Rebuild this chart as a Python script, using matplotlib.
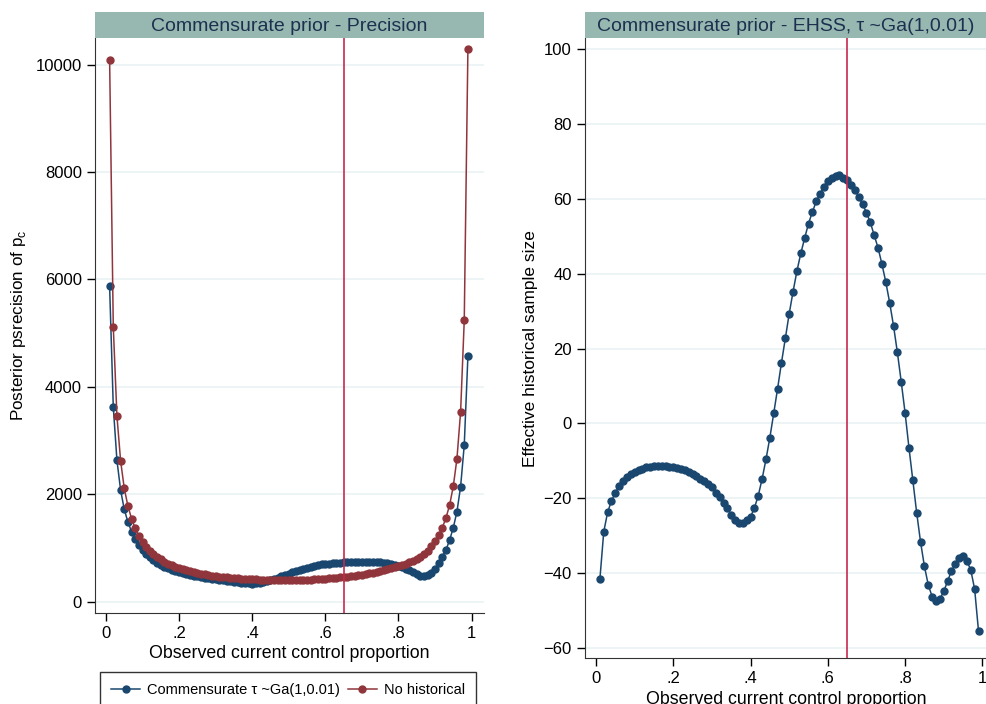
import matplotlib
matplotlib.use('Agg')
import matplotlib.pyplot as plt
from matplotlib.lines import Line2D

plt.rcParams['font.family'] = ['Liberation Sans', 'DejaVu Sans']

# observed current control proportion grid
proportion = [i / 100 for i in range(1, 100)]

# posterior precision, commensurate prior tau ~ Ga(1,0.01)
precision_comm = [
    5870, 3630, 2633, 2080, 1720, 1484, 1304, 1173, 1050, 957,
    885, 824, 772, 727, 688, 654, 624, 597, 573, 552,
    533, 516, 500, 486, 473, 461, 450, 439, 429, 419,
    409, 399, 389, 379, 369, 359, 350, 343, 339, 338,
    341, 348, 360, 378, 400, 425, 450, 475, 500, 524,
    548, 571, 593, 614, 633, 651, 667, 681, 693, 703,
    711, 718, 724, 729, 733, 737, 740, 742, 744, 745,
    745, 744, 741, 737, 731, 723, 713, 700, 684, 665,
    643, 617, 588, 557, 510, 482, 478, 495, 540, 609,
    715, 838, 963, 1149, 1378, 1676, 2142, 2918, 4575,
]

# posterior precision, no historical data
precision_none = [
    10080, 5120, 3458, 2626, 2112, 1782, 1546, 1367, 1223, 1110,
    1023, 950, 887, 833, 786, 746, 710, 679, 651, 626,
    604, 584, 566, 549, 534, 521, 508, 497, 487, 477,
    468, 461, 453, 447, 441, 435, 430, 425, 421, 418,
    414, 412, 409, 407, 405, 404, 403, 402, 401, 401,
    402, 403, 405, 407, 410, 413, 417, 421, 425, 430,
    435, 441, 447, 454, 461, 468, 476, 485, 494, 504,
    515, 527, 540, 554, 569, 585, 603, 622, 643, 657,
    680, 705, 733, 765, 800, 840, 885, 950, 1037, 1130,
    1248, 1378, 1559, 1801, 2149, 2663, 3533, 5240, 10300,
]

# effective historical sample size
ehss = [
    -41.7, -29.0, -23.8, -20.7, -18.6, -16.7, -15.3, -14.3, -13.6, -13.0,
    -12.6, -12.1, -11.8, -11.6, -11.5, -11.4, -11.4, -11.5, -11.6, -11.8,
    -12.0, -12.3, -12.6, -13.0, -13.5, -14.1, -14.8, -15.4, -16.1, -17.1,
    -18.5, -19.8, -21.3, -22.7, -24.4, -25.9, -26.6, -26.6, -25.9, -25.0,
    -22.6, -19.3, -14.8, -9.6, -3.8, 2.7, 9.3, 16.2, 22.7, 29.3,
    35.2, 40.7, 45.4, 49.5, 53.4, 56.5, 59.3, 61.4, 63.3, 64.8,
    65.6, 66.1, 66.4, 65.7, 65.1, 63.8, 62.3, 60.6, 58.6, 56.3,
    53.7, 50.3, 46.9, 42.6, 37.8, 32.3, 26.1, 19.0, 11.1, 2.8,
    -6.5, -15.2, -23.9, -31.7, -38.2, -43.2, -46.3, -47.4, -47.0, -44.9,
    -42.2, -39.4, -37.7, -36.1, -35.4, -36.8, -39.2, -44.3, -55.5,
]

observed = 0.65
x_ticks = [0, 0.2, 0.4, 0.6, 0.8, 1]
x_ticklabels = ['0', '.2', '.4', '.6', '.8', '1']

navy = '#1a476f'
maroon = '#90353b'
vline_col = '#c8284e'
band_col = '#97b8b0'
band_text = '#1e3050'
grid_col = '#eaf2f3'

fig = plt.figure(figsize=(9.87, 7.04), dpi=100)

W, H = 987, 704
def fx(px):
    return px / W
def fy(px):
    return 1 - px / H

ax1 = fig.add_axes([fx(95), fy(612.7), fx(484) - fx(95), fy(38) - fy(612.7)])
ax2 = fig.add_axes([fx(585), fy(658.3), fx(987) - fx(585), fy(38) - fy(658.3)])


def style(ax):
    for s in ['top', 'right']:
        ax.spines[s].set_visible(False)
    ax.spines['left'].set_color('#333333')
    ax.spines['bottom'].set_color('#333333')
    ax.tick_params(axis='both', direction='out', length=6, width=1,
                   labelsize=12, colors='black')
    ax.yaxis.grid(True, color=grid_col, lw=1.2)
    ax.set_axisbelow(True)
    ax.set_xticks(x_ticks)
    ax.set_xticklabels(x_ticklabels)


# left panel - precision
ax1.plot(proportion, precision_comm, '-o', color=navy, lw=1.1, ms=5, zorder=3)
ax1.plot(proportion, precision_none, '-o', color=maroon, lw=1.1, ms=5, zorder=4)
ax1.axvline(observed, color=vline_col, lw=1.2, zorder=5)
ax1.set_xlim(-0.030, 1.034)
ax1.set_ylim(-205, 10497)
style(ax1)
ax1.set_yticks([0, 2000, 4000, 6000, 8000, 10000])
ax1.set_xlabel('Observed current control proportion', fontsize=12.8, labelpad=3)
ax1.set_ylabel('Posterior psrecision of p$_\\mathregular{c}$', fontsize=12.3)
ax1.yaxis.set_label_coords(-0.172, 0.5)

# right panel - EHSS
ax2.plot(proportion, ehss, '-o', color=navy, lw=1.1, ms=5, zorder=3)
ax2.axvline(observed, color=vline_col, lw=1.2, zorder=5)
ax2.set_xlim(-0.0285, 1.012)
ax2.set_ylim(-62.8, 103.0)
style(ax2)
ax2.set_yticks([-60, -40, -20, 0, 20, 40, 60, 80, 100])
ax2.set_xlabel('Observed current control proportion', fontsize=12.8, labelpad=3)
ax2.set_ylabel('Effective historical sample size', fontsize=12.5)
ax2.yaxis.set_label_coords(-0.117, 0.5)

# title bands
for x0, x1, txt in [(95, 484, 'Commensurate prior - Precision'),
                    (585, 987, 'Commensurate prior - EHSS, \u03c4 ~Ga(1,0.01)')]:
    band = fig.add_axes([fx(x0), fy(38), fx(x1) - fx(x0), fy(12) - fy(38)])
    band.set_facecolor(band_col)
    band.set_xticks([])
    band.set_yticks([])
    for s in band.spines.values():
        s.set_visible(False)
    band.text(0.5, 0.45, txt, ha='center', va='center', fontsize=14,
              color=band_text, transform=band.transAxes)

# legend
handles = [Line2D([], [], color=navy, marker='o', lw=1.1, ms=5),
           Line2D([], [], color=maroon, marker='o', lw=1.1, ms=5)]
labels = ['Commensurate \u03c4 ~Ga(1,0.01)', 'No historical']
leg = fig.legend(handles, labels, ncol=2, loc='upper left',
                 bbox_to_anchor=(fx(100), fy(672)),
                 fontsize=10.5, frameon=True, fancybox=False,
                 edgecolor='black', handlelength=2.0, handletextpad=0.5,
                 borderpad=0.75, borderaxespad=0, columnspacing=0.5)
leg.get_frame().set_linewidth(1.0)

fig.savefig('out.png', dpi=100)
